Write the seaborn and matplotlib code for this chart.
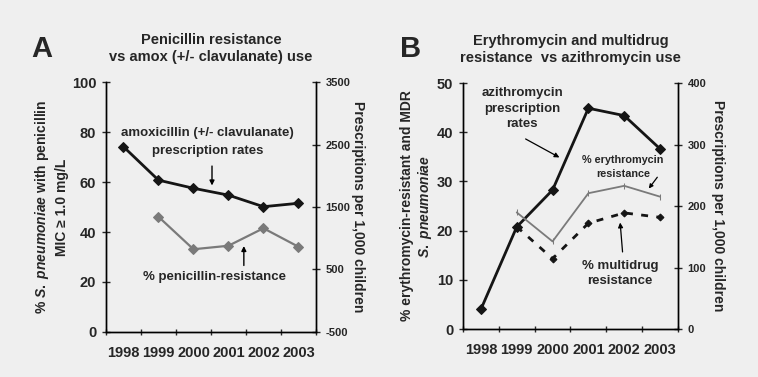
import pandas as pd
import matplotlib
matplotlib.use('Agg')
import matplotlib.pyplot as plt
import seaborn as sns

# data
years = [1998, 1999, 2000, 2001, 2002, 2003]
amox_rx = [2465, 1930, 1800, 1690, 1505, 1560]          # right axis, panel A
pen_years = [1999, 2000, 2001, 2002, 2003]
pen_res = [46.1, 33.1, 34.5, 41.5, 34.1]                # left axis, panel A

azi_rx = [32, 166, 226, 359, 347, 293]                   # right axis, panel B
ery_years = [1999, 2000, 2001, 2002, 2003]
ery_res = [23.7, 17.8, 27.6, 29.1, 26.9]
mdr_years = [1999, 2000, 2001, 2002, 2003]
mdr_res = [20.8, 14.3, 21.5, 23.6, 22.7]

sns.set_style('ticks')
plt.rcParams['font.family'] = ['Liberation Sans', 'DejaVu Sans']
plt.rcParams['font.weight'] = 'bold'
plt.rcParams['axes.unicode_minus'] = False
plt.rcParams['mathtext.fontset'] = 'custom'
plt.rcParams['mathtext.it'] = 'Liberation Sans:italic:bold'
plt.rcParams['mathtext.rm'] = 'Liberation Sans:bold'

BG = '#efefef'
DARK = '#151515'
GREY = '#7a7a7a'

fig = plt.figure(figsize=(7.58, 3.77), dpi=100, facecolor=BG)
axA = fig.add_axes([0.1398, 0.1194, 0.2770, 0.6630])
axB = fig.add_axes([0.6108, 0.1273, 0.2836, 0.6525])


def style_axes(ax, ax2):
    for a in (ax, ax2):
        a.set_facecolor('none')
        a.spines['top'].set_visible(False)
        for s in ('left', 'right', 'bottom'):
            a.spines[s].set_color('black')
            a.spines[s].set_linewidth(1.0)
    ax.set_xlim(1997.5, 2003.5)
    ax.set_xticks(years)
    ax.set_xticklabels([str(y) for y in years], fontsize=10.5, fontweight='bold')
    ax.set_xticks([y - 0.5 for y in years] + [2003.5], minor=True)
    ax.tick_params(axis='x', which='major', length=0, pad=10)
    ax.tick_params(axis='x', which='minor', direction='inout', length=5, width=1)
    ax.tick_params(axis='y', direction='inout', length=6, width=1, labelsize=10.5, pad=4)
    ax2.tick_params(axis='y', direction='inout', length=6, width=1, labelsize=8, pad=4)
    ax.set_xlabel('')
    ax2.set_xlabel('')
    ax.set_zorder(ax2.get_zorder() + 1)
    ax.patch.set_visible(False)
    for lab in ax.get_yticklabels() + ax2.get_yticklabels():
        lab.set_fontweight('bold')


# ---------------- Panel A ----------------
axA2 = axA.twinx()
dfA = pd.DataFrame({'year': years, 'rx': amox_rx})
dfP = pd.DataFrame({'year': pen_years, 'res': pen_res})
sns.lineplot(data=dfA, x='year', y='rx', ax=axA2, color=DARK, linewidth=2,
             marker='D', markersize=5, markeredgecolor=DARK)
sns.lineplot(data=dfP, x='year', y='res', ax=axA, color=GREY, linewidth=1.6,
             marker='D', markersize=5, markeredgecolor=GREY)
axA.set_ylim(0, 100)
axA.set_yticks(range(0, 101, 20))
axA2.set_ylim(-500, 3500)
axA2.set_yticks([-500, 500, 1500, 2500, 3500])
style_axes(axA, axA2)
axA.set_ylabel('% $\\mathit{S.\\ pneumoniae}$ with penicillin\nMIC \u2265 1.0 mg/L',
               fontsize=10, fontweight='bold', labelpad=2, linespacing=1.4)
axA2.set_ylabel('Prescriptions per 1,000 children', fontsize=10, fontweight='bold',
                rotation=270, va='bottom', labelpad=0)
axA.set_title('Penicillin resistance\nvs amox (+/- clavulanate) use',
              fontsize=10.5, fontweight='bold', pad=15, linespacing=1.3)

axA.text(2000.41, 79.5, 'amoxicillin (+/- clavulanate)', ha='center', va='center',
         fontsize=9.5, fontweight='bold')
axA.text(2000.41, 72.3, 'prescription rates', ha='center', va='center',
         fontsize=9.5, fontweight='bold')
axA.annotate('', xy=(2000.53, 57.5), xytext=(2000.53, 67.5),
             arrowprops=dict(arrowstyle='-|>', color='black', lw=1, mutation_scale=7))
axA.text(2000.59, 22, '% penicillin-resistance', ha='center', va='center',
         fontsize=9.5, fontweight='bold')
axA.annotate('', xy=(2001.44, 35.5), xytext=(2001.44, 25.5),
             arrowprops=dict(arrowstyle='-|>', color='black', lw=1, mutation_scale=7))

# ---------------- Panel B ----------------
axB2 = axB.twinx()
dfZ = pd.DataFrame({'year': years, 'rx': azi_rx})
dfE = pd.DataFrame({'year': ery_years, 'res': ery_res})
dfM = pd.DataFrame({'year': mdr_years, 'res': mdr_res})
sns.lineplot(data=dfZ, x='year', y='rx', ax=axB2, color=DARK, linewidth=2,
             marker='D', markersize=5, markeredgecolor=DARK)
sns.lineplot(data=dfE, x='year', y='res', ax=axB, color=GREY, linewidth=1.3,
             marker='|', markersize=5, markeredgecolor=GREY)
sns.lineplot(data=dfM, x='year', y='res', ax=axB, color=DARK, linewidth=2,
             linestyle=(0, (2.5, 3)), marker='D', markersize=3.5, markeredgecolor=DARK)
axB.set_ylim(0, 50)
axB.set_yticks(range(0, 51, 10))
axB2.set_ylim(0, 400)
axB2.set_yticks(range(0, 401, 100))
style_axes(axB, axB2)
axB.set_ylabel('% erythromycin-resistant and MDR\n$\\mathit{S.\\ pneumoniae}$',
               fontsize=10, fontweight='bold', labelpad=2, linespacing=1.15)
axB2.set_ylabel('Prescriptions per 1,000 children', fontsize=10, fontweight='bold',
                rotation=270, va='bottom', labelpad=3)
axB.set_title('Erythromycin and multidrug\nresistance  vs azithromycin use',
              fontsize=10.5, fontweight='bold', pad=15, linespacing=1.3)

axB.text(1999.15, 48.0, 'azithromycin', ha='center', va='center', fontsize=9.5, fontweight='bold')
axB.text(1999.15, 44.8, 'prescription', ha='center', va='center', fontsize=9.5, fontweight='bold')
axB.text(1999.15, 41.7, 'rates', ha='center', va='center', fontsize=9.5, fontweight='bold')
axB.annotate('', xy=(2000.26, 34.6), xytext=(1999.18, 38.9),
             arrowprops=dict(arrowstyle='-|>', color='black', lw=0.9, mutation_scale=7))
axB.text(2001.97, 34.4, '% erythromycin', ha='center', va='center', fontsize=7.8, fontweight='bold')
axB.text(2001.97, 31.5, 'resistance', ha='center', va='center', fontsize=7.8, fontweight='bold')
axB.annotate('', xy=(2002.64, 28.1), xytext=(2002.97, 31.3),
             arrowprops=dict(arrowstyle='-|>', color='black', lw=0.9, mutation_scale=6))
axB.text(2001.88, 12.8, '% multidrug', ha='center', va='center', fontsize=9.5, fontweight='bold')
axB.text(2001.88, 9.8, 'resistance', ha='center', va='center', fontsize=9.5, fontweight='bold')
axB.annotate('', xy=(2001.88, 22.2), xytext=(2001.96, 15.1),
             arrowprops=dict(arrowstyle='-|>', color='black', lw=0.9, mutation_scale=7))

fig.text(0.055, 0.87, 'A', fontsize=21, fontweight='bold', ha='center', va='center')
fig.text(0.541, 0.87, 'B', fontsize=21, fontweight='bold', ha='center', va='center')

fig.savefig('out.png', dpi=100, facecolor=BG)
